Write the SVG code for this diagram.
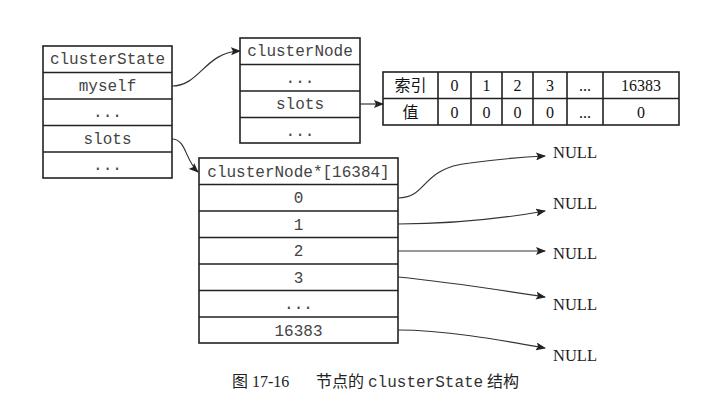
<svg xmlns="http://www.w3.org/2000/svg" width="707" height="409" viewBox="0 0 707 409">
<style>
.box{fill:#fff;stroke:#222;stroke-width:1.6}
.ln{stroke:#222;stroke-width:1.6;fill:none}
.mono{font-family:"Liberation Mono","DejaVu Sans Mono",monospace;font-size:16px;fill:#444;text-anchor:middle}
.ser{font-family:"Liberation Serif","Noto Sans CJK SC",serif;font-size:16px;fill:#111;text-anchor:middle}
.null{font-family:"Liberation Serif",serif;font-size:16.5px;fill:#222}
.conn{stroke:#333;stroke-width:1.2;fill:none;marker-end:url(#ah)}
.cap{font-family:"Liberation Serif","Noto Sans CJK SC",serif;font-size:16px;fill:#222}
.capm{font-family:"Liberation Mono",monospace;font-size:16px;fill:#333}
</style>
<defs>
<marker id="ah" markerUnits="userSpaceOnUse" markerWidth="10" markerHeight="8" refX="9" refY="4" orient="auto">
<path d="M0,0 L10,4 L0,8 L2,4 Z" fill="#222"/>
</marker>
</defs>
<rect width="707" height="409" fill="#fff"/>
<g id="clusterState">
<rect class="box" x="43" y="46" width="129" height="132"/>
<path class="ln" d="M43,72.5H172M43,99H172M43,125.5H172M43,152H172"/>
<text class="mono" x="107.5" y="64">clusterState</text>
<text class="mono" x="107.5" y="90.5">myself</text>
<text class="mono" x="107.5" y="117">...</text>
<text class="mono" x="107.5" y="143.5">slots</text>
<text class="mono" x="107.5" y="170">...</text>
</g>
<g id="clusterNode">
<rect class="box" x="240" y="38" width="120" height="105"/>
<path class="ln" d="M240,64.5H360M240,91H360M240,117.5H360"/>
<text class="mono" x="300" y="56">clusterNode</text>
<text class="mono" x="300" y="82.5">...</text>
<text class="mono" x="300" y="109">slots</text>
<text class="mono" x="300" y="135.5">...</text>
</g>
<g id="slotsTable">
<rect class="box" x="383" y="72" width="296" height="53"/>
<path class="ln" d="M383,98.5H679M438,72V125M471,72V125M502,72V125M533,72V125M567,72V125M603,72V125"/>
<text class="ser" x="410.5" y="91">索引</text>
<text class="ser" x="454.5" y="91">0</text>
<text class="ser" x="486.5" y="91">1</text>
<text class="ser" x="517.5" y="91">2</text>
<text class="ser" x="550" y="91">3</text>
<text class="ser" x="585" y="91">...</text>
<text class="ser" x="641" y="91">16383</text>
<text class="ser" x="410.5" y="117.5">值</text>
<text class="ser" x="454.5" y="117.5">0</text>
<text class="ser" x="486.5" y="117.5">0</text>
<text class="ser" x="517.5" y="117.5">0</text>
<text class="ser" x="550" y="117.5">0</text>
<text class="ser" x="585" y="117.5">...</text>
<text class="ser" x="641" y="117.5">0</text>
</g>
<g id="slotsArray">
<rect class="box" x="199" y="158" width="199" height="185"/>
<path class="ln" d="M199,184.5H398M199,211H398M199,237.5H398M199,264H398M199,290.5H398M199,317H398"/>
<text class="mono" x="298.5" y="176.5">clusterNode*[16384]</text>
<text class="mono" x="298.5" y="203">0</text>
<text class="mono" x="298.5" y="229.5">1</text>
<text class="mono" x="298.5" y="256">2</text>
<text class="mono" x="298.5" y="282.5">3</text>
<text class="mono" x="298.5" y="309">...</text>
<text class="mono" x="298.5" y="335.5">16383</text>
</g>
<g id="nulls">
<text class="null" x="553" y="157.5">NULL</text>
<text class="null" x="553" y="208.5">NULL</text>
<text class="null" x="553" y="258.5">NULL</text>
<text class="null" x="553" y="309.5">NULL</text>
<text class="null" x="553" y="360.5">NULL</text>
</g>
<g id="connectors">
<path class="conn" d="M172,86 C200,86 205,52 240,51"/>
<path class="conn" d="M172,139 C186,139 185,160 198,172"/>
<path class="conn" d="M360,104 L383,104"/>
<path class="conn" d="M398,198 C428,198 420,168 470,163 C500,159 525,157 545,156"/>
<path class="conn" d="M398,224 C455,224 500,219 545,211"/>
<path class="conn" d="M398,251 L545,251"/>
<path class="conn" d="M398,277 C450,282 500,290 545,297"/>
<path class="conn" d="M398,330 C445,330 500,340 545,348"/>
</g>
<g id="caption">
<text class="cap" x="232" y="387">图 17-16</text>
<text class="cap" x="316" y="387">节点的</text>
<text class="capm" x="368" y="387">clusterState</text>
<text class="cap" x="487" y="387">结构</text>
</g>
</svg>
